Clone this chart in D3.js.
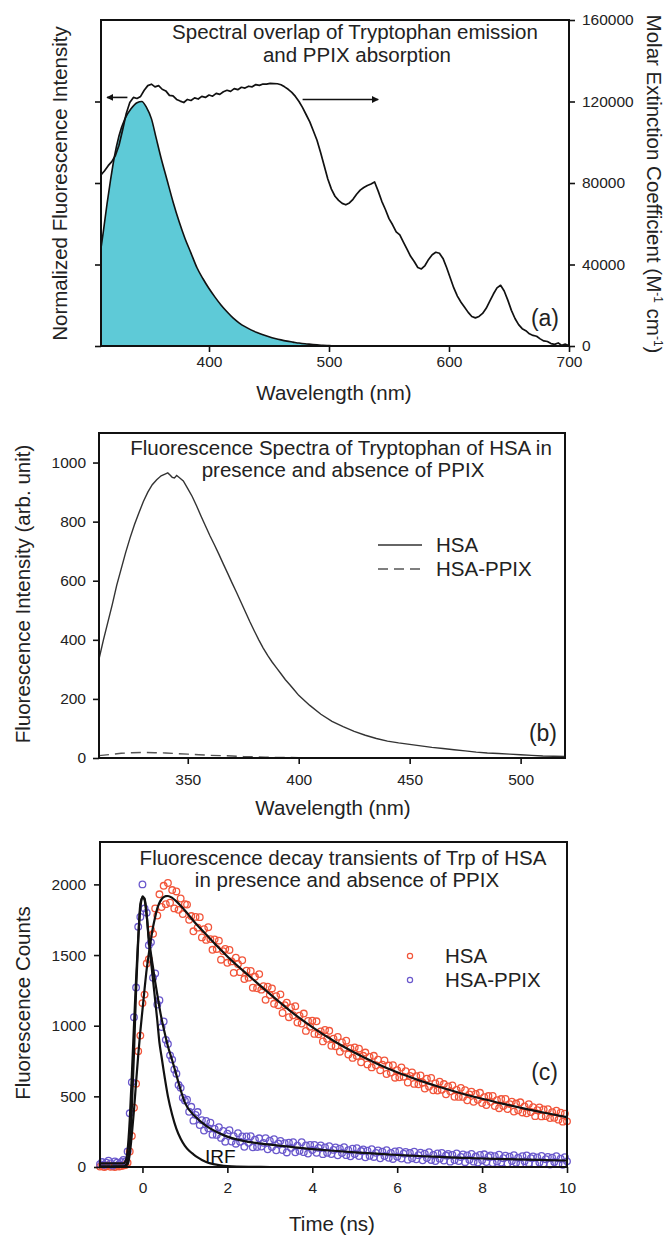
<!DOCTYPE html>
<html>
<head>
<meta charset="utf-8">
<script src="https://cdn.jsdelivr.net/npm/d3@7"></script>
<style>
  html, body { margin: 0; padding: 0; background: #fff; }
  svg text { font-family: "Liberation Sans", Arial, Helvetica, sans-serif; fill: #222; }
</style>
</head>
<body>
<svg id="fig" width="669" height="1236"></svg>
<script>
// ---------------- Panel (a): Trp emission vs. PPIX absorption ----------------
const trpWavelength = [310, 312, 315, 318, 321, 325, 330, 335, 340, 344, 348, 352, 356, 360, 365, 370, 375, 380, 385, 390,
  395, 400, 405, 410, 415, 420, 425, 430, 435, 440, 445, 450, 455, 460, 465, 470, 475, 480, 485, 490, 495, 500, 505];
const trpNormEmission = [0.40, 0.47, 0.58, 0.68, 0.77, 0.86, 0.93, 0.97, 0.995, 1.0, 0.975, 0.93, 0.85, 0.77, 0.68, 0.59, 0.51, 0.44, 0.38, 0.32,
  0.275, 0.235, 0.2, 0.168, 0.14, 0.115, 0.095, 0.079, 0.066, 0.055, 0.046, 0.038, 0.031, 0.025, 0.02, 0.016, 0.012, 0.009, 0.007, 0.005, 0.003, 0.0015, 0];

// PPIX absorption sampled every 3 nm from 310 to 700 nm
const ppixWavelength = d3.range(310, 701, 3);
const ppixExtinction = [
  84000, 86000, 88500, 90500, 93500, 98500, 106000, 114000, 119500, 122000,
  121500, 122500, 125500, 127800, 128500, 127200, 127800, 126000, 125200, 123000,
  122800, 121000, 120200, 119500, 121000, 120500, 121800, 121200, 122500, 122000,
  123200, 122600, 124000, 123500, 124800, 125500, 125000, 126300, 125800, 127000,
  126600, 127500, 127200, 128300, 127900, 128600, 128500, 128900, 128800, 128700,
  128200, 127200, 126000, 124500, 122500, 120000, 117000, 113500, 110000, 105500,
  101000, 95000, 88500, 82000, 77000, 73500, 71500, 70000, 69300, 70200,
  72000, 74500, 76500, 77800, 78800, 79500, 80500, 76000, 71000, 67000,
  62500, 59500, 56000, 54500, 51000, 47500, 44000, 41500, 38500, 37800,
  39500, 42500, 44800, 46000, 45500, 43000, 38500, 33500, 28500, 24500,
  21500, 19000, 16500, 14500, 13800, 14500, 16000, 18500, 22000, 25500,
  28500, 29800, 27000, 22500, 17500, 13500, 10500, 8500, 7500, 6000,
  5200, 4800, 3500, 2500, 2200, 1200, 800, 1500, 300, 900, 200];

const aXTicks = [400, 500, 600, 700];
const aRightTicks = [0, 40000, 80000, 120000, 160000];
const aLeftTicks = [0, 1 / 3, 2 / 3, 1];

// ---------------- Panel (b): steady-state Trp fluorescence ----------------
const bWavelength = [310, 312, 314, 316, 318, 320, 322, 324, 326, 328, 330, 332, 334, 336, 338, 340, 341, 342, 343, 344,
  345, 346, 348, 350, 352, 354, 356, 358, 360, 362, 364, 366, 368, 370, 372, 374, 376, 378, 380, 382,
  384, 386, 388, 390, 392, 394, 396, 398, 400, 405, 410, 415, 420, 425, 430, 435, 440, 445, 450, 455,
  460, 465, 470, 475, 480, 485, 490, 495, 500, 505, 510, 515, 520];
const hsaIntensity = [335, 400, 460, 520, 585, 640, 695, 745, 790, 830, 868, 900, 925, 942, 955, 962, 965, 958, 950, 948,
  956, 950, 938, 912, 885, 853, 818, 785, 752, 722, 690, 657, 625, 592, 560, 527, 494, 461, 430, 400,
  372, 347, 325, 305, 285, 265, 248, 230, 212, 178, 148, 124, 106, 90, 77, 66, 57, 51, 46, 41,
  36, 32, 28, 24, 20, 17, 15, 13, 11, 9, 7, 6, 5];
const ppixWavelengthB = [310, 315, 320, 325, 330, 335, 340, 345, 350, 355, 360, 365, 370, 375, 380, 385, 390, 395, 400, 410, 420, 450, 480, 520];
const hsaPpixIntensity = [8, 12, 16, 18, 19, 18, 17, 15, 13, 11, 9, 8, 7, 5, 4, 3, 2, 2, 1, 1, 0, 0, 0, 0];

const bXTicks = [350, 400, 450, 500];
const bYTicks = [0, 200, 400, 600, 800, 1000];

// ---------------- Panel (c): time-resolved decays ----------------
const channelStart = -1.0;   // ns
const channelWidth = 0.05;   // ns
const hsaCounts = [
  3, 8, 0, 5, 12, 2, 6, 0, 9, 4, 7, 10, 14,
  30, 110, 220, 420, 590, 820, 930, 1160, 1220, 1440, 1470, 1680, 1650, 1830, 1780,
  1930, 1840, 1990, 1860, 2010, 1870, 1960, 1830, 1950, 1820, 1900, 1790, 1860,
  1857, 1749, 1776, 1668, 1770, 1694, 1768, 1625, 1683, 1607, 1697, 1613, 1537, 1611, 1543, 1602, 1467, 1528, 1543, 1445,
  1536, 1455, 1374, 1481, 1437, 1379, 1463, 1330, 1390, 1340, 1387, 1269, 1346, 1265, 1365, 1255, 1279, 1183, 1276, 1217,
  1264, 1155, 1209, 1145, 1222, 1090, 1145, 1163, 1060, 1130, 1074, 1138, 1022, 1071, 1015, 1086, 963, 1034, 993, 1035,
  942, 1031, 939, 959, 889, 970, 907, 964, 858, 908, 855, 921, 816, 881, 843, 894, 796, 840, 772, 846,
  786, 838, 741, 787, 810, 726, 779, 705, 787, 720, 759, 684, 724, 754, 658, 718, 668, 721, 632, 685,
  635, 704, 639, 678, 598, 645, 670, 588, 643, 585, 648, 597, 555, 625, 569, 631, 543, 591, 541, 604,
  547, 587, 515, 570, 536, 578, 497, 546, 496, 560, 496, 544, 472, 514, 533, 461, 517, 476, 525, 453,
  494, 438, 502, 461, 503, 431, 473, 416, 481, 432, 482, 410, 445, 463, 392, 449, 401, 458, 386, 428,
  380, 445, 389, 423, 360, 402, 421, 358, 407, 360, 409, 346, 388, 348, 398, 335, 384, 321, 378, 323];
const hsaPpixCounts = [
  20, 35, 15, 30, 45, 25, 10, 40, 30, 20, 35, 50, 40,
  110, 380, 600, 1060, 1270, 1700, 1770, 2000, 1830, 1800, 1570, 1590, 1340, 1370, 1150,
  1180, 990, 1030, 900, 870, 790, 760, 690, 660, 580, 560, 490, 470,
  476, 391, 426, 328, 369, 389, 297, 331, 258, 326, 274, 314, 229, 270, 227, 282, 206, 256, 179, 236,
  260, 180, 218, 165, 239, 179, 217, 143, 217, 171, 218, 139, 193, 142, 203, 145, 171, 204, 125, 186,
  142, 197, 118, 166, 185, 120, 168, 103, 172, 135, 175, 104, 151, 115, 176, 105, 152, 95, 156, 120,
  156, 101, 135, 152, 91, 138, 101, 147, 92, 121, 138, 83, 130, 99, 140, 84, 119, 76, 129, 92,
  133, 78, 113, 124, 69, 116, 79, 126, 71, 100, 117, 62, 109, 78, 119, 65, 100, 57, 110, 73,
  114, 60, 95, 106, 52, 99, 62, 109, 55, 84, 101, 47, 94, 63, 105, 50, 85, 42, 96, 59,
  100, 46, 81, 93, 38, 85, 49, 96, 42, 71, 89, 34, 82, 51, 93, 38, 74, 31, 85, 48,
  90, 35, 71, 82, 28, 76, 39, 87, 32, 62, 80, 25, 73, 42, 84, 30, 65, 23, 76, 40,
  82, 27, 63, 75, 20, 68, 32, 79, 25, 55, 72, 18, 66, 35, 77, 23, 59, 16, 70, 40];

// fitted decay curves
const fitTime = [-1, -0.45, -0.4, -0.35, -0.3, -0.25, -0.2, -0.15, -0.1, -0.05, 0, 0.05, 0.1, 0.15, 0.2, 0.25, 0.3, 0.35, 0.4, 0.45,
  0.5, 0.55, 0.6, 0.7, 0.8, 0.9, 1.0, 1.25, 1.5, 1.75, 2, 2.5, 3, 3.5, 4, 4.5, 5, 5.5, 6, 6.5, 7, 7.5, 8, 8.5, 9, 9.5, 10];
const hsaFit = [5, 5, 8, 20, 90, 230, 400, 600, 790, 960, 1110, 1260, 1400, 1510, 1610, 1700, 1770, 1830, 1870, 1895,
  1910, 1917, 1918, 1905, 1880, 1848, 1815, 1725, 1645, 1565, 1490, 1355, 1225, 1100, 990, 893, 808, 735, 670, 615, 566, 522, 483, 447, 413, 382, 353];
const hsaPpixFit = [25, 25, 40, 120, 330, 650, 1000, 1330, 1620, 1830, 1915, 1890, 1780, 1620, 1510, 1410, 1310, 1220, 1130, 1050,
  980, 915, 855, 755, 650, 545, 455, 355, 291, 248, 215, 178, 158, 142, 127, 115, 104, 94, 85, 78, 71, 65, 60, 56, 52, 49, 46];

// instrument response function
const irfTime = [-1, -0.45, -0.4, -0.35, -0.3, -0.25, -0.2, -0.15, -0.1, -0.05, 0, 0.05, 0.1, 0.15, 0.2, 0.25, 0.3, 0.35, 0.4, 0.45,
  0.5, 0.6, 0.7, 0.8, 0.9, 1.0, 1.1, 1.2, 1.3, 1.4, 1.5, 1.6, 1.8, 2.0, 2.5, 3.0];
const irfCounts = [0, 2, 10, 45, 150, 420, 800, 1250, 1600, 1860, 1905, 1900, 1780, 1600, 1460, 1320, 1180, 1035, 880, 780,
  680, 500, 370, 270, 200, 150, 115, 90, 68, 50, 36, 26, 14, 6, 1, 0];

const cXTicks = [0, 2, 4, 6, 8, 10];
const cYTicks = [0, 500, 1000, 1500, 2000];

// ---------------- drawing ----------------
const svg = d3.select("#fig");
const ink = "#111";
const TICK_FONT = "15.5px";
const LABEL_FONT = "20.5px";
const intFmt = d3.format("d");

function styleAxis(g) {
  g.select(".domain").remove();
  g.selectAll(".tick line").attr("stroke", ink).attr("stroke-width", 1.6);
  g.selectAll(".tick text").style("font-size", TICK_FONT);
}
function frame(x0, y0, x1, y1) {
  svg.append("rect").attr("x", x0).attr("y", y0).attr("width", x1 - x0).attr("height", y1 - y0)
    .attr("fill", "none").attr("stroke", ink).attr("stroke-width", 2);
}
function label(x, y, txt, opts = {}) {
  const t = svg.append("text").attr("x", x).attr("y", y)
    .attr("text-anchor", opts.anchor || "middle")
    .style("font-size", opts.size || LABEL_FONT)
    .text(txt);
  if (opts.rotate) t.attr("x", null).attr("y", null).attr("transform", `translate(${x},${y}) rotate(${opts.rotate})`);
  return t;
}

// ===== (a) =====
const A = { l: 101, r: 569, t: 20, b: 346 };
const xA = d3.scaleLinear().domain([310, 700]).range([A.l, A.r]);
const yAbs = d3.scaleLinear().domain([0, 160000]).range([A.b, A.t]);
const yNorm = d3.scaleLinear().domain([0, 4 / 3]).range([A.b, A.t]);

const trp = trpWavelength.map((w, i) => ({ w, v: trpNormEmission[i] }));
svg.append("path").datum(trp)
  .attr("fill", "#5ECAD7")
  .attr("d", d3.area().x(d => xA(d.w)).y0(yNorm(0)).y1(d => yNorm(d.v)).curve(d3.curveMonotoneX));
svg.append("path").datum(trp)
  .attr("fill", "none").attr("stroke", ink).attr("stroke-width", 1.6)
  .attr("d", d3.line().x(d => xA(d.w)).y(d => yNorm(d.v)).curve(d3.curveMonotoneX));

const ppix = ppixWavelength.map((w, i) => ({ w, v: ppixExtinction[i] }));
svg.append("path").datum(ppix)
  .attr("fill", "none").attr("stroke", ink).attr("stroke-width", 1.7).attr("stroke-linejoin", "round")
  .attr("d", d3.line().x(d => xA(d.w)).y(d => yAbs(d.v)));

frame(A.l, A.t, A.r, A.b);
svg.append("g").attr("transform", `translate(0,${A.b})`)
  .call(d3.axisBottom(xA).tickValues(aXTicks).tickFormat(intFmt).tickSize(6).tickPadding(4)).call(styleAxis);
svg.append("g").attr("transform", `translate(${A.r},0)`)
  .call(d3.axisRight(yAbs).tickValues(aRightTicks).tickFormat(intFmt).tickSize(6).tickPadding(7)).call(styleAxis);
svg.append("g").attr("transform", `translate(${A.l},0)`)
  .call(d3.axisLeft(yNorm).tickValues(aLeftTicks).tickFormat(() => "").tickSize(6)).call(styleAxis);

// arrows pointing to each curve's axis
const defs = svg.append("defs");
defs.append("marker").attr("id", "arrowHead").attr("viewBox", "0 0 10 10")
  .attr("refX", 9).attr("refY", 5).attr("markerWidth", 7).attr("markerHeight", 7)
  .attr("orient", "auto-start-reverse").attr("markerUnits", "userSpaceOnUse")
  .append("path").attr("d", "M0,0 L10,5 L0,10 z").attr("fill", ink);
const arrows = [
  { from: 332, to: 315, at: 122000 },
  { from: 478, to: 541, at: 121000 }
];
arrows.forEach(a => {
  svg.append("line").attr("x1", xA(a.from)).attr("x2", xA(a.to))
    .attr("y1", yAbs(a.at)).attr("y2", yAbs(a.at))
    .attr("stroke", ink).attr("stroke-width", 1.6).attr("marker-end", "url(#arrowHead)");
});

label(355, 39, "Spectral overlap of Tryptophan emission");
label(357, 62, "and PPIX absorption");
label(559, 326, "(a)", { anchor: "end", size: "23px" });
label(334, 400, "Wavelength (nm)");
label(67, 183.5, "Normalized Fluorescence Intensity", { rotate: -90 });
const rl = svg.append("text").attr("transform", "translate(647,184) rotate(90)")
  .attr("text-anchor", "middle").style("font-size", LABEL_FONT);
rl.append("tspan").text("Molar Extinction Coefficient (M");
rl.append("tspan").attr("dy", -7).style("font-size", "12px").text("-1");
rl.append("tspan").attr("dy", 7).text(" cm");
rl.append("tspan").attr("dy", -7).style("font-size", "12px").text("-1");
rl.append("tspan").attr("dy", 7).text(")");

// ===== (b) =====
const B = { l: 99, r: 565, t: 433, b: 758 };
const xB = d3.scaleLinear().domain([310, 520]).range([B.l, B.r]);
const yB = d3.scaleLinear().domain([0, 1100]).range([B.b, B.t]);

svg.append("path").datum(bWavelength.map((w, i) => ({ w, v: hsaIntensity[i] })))
  .attr("fill", "none").attr("stroke", "#333").attr("stroke-width", 1.4)
  .attr("d", d3.line().x(d => xB(d.w)).y(d => yB(d.v)));
svg.append("path").datum(ppixWavelengthB.map((w, i) => ({ w, v: hsaPpixIntensity[i] })))
  .attr("fill", "none").attr("stroke", "#555").attr("stroke-width", 1.4).attr("stroke-dasharray", "10,6")
  .attr("d", d3.line().x(d => xB(d.w)).y(d => yB(d.v)));

frame(B.l, B.t, B.r, B.b);
svg.append("g").attr("transform", `translate(0,${B.b})`)
  .call(d3.axisBottom(xB).tickValues(bXTicks).tickFormat(intFmt).tickSize(6).tickPadding(10)).call(styleAxis);
svg.append("g").attr("transform", `translate(${B.l},0)`)
  .call(d3.axisLeft(yB).tickValues(bYTicks).tickFormat(intFmt).tickSize(6).tickPadding(7)).call(styleAxis);

label(341, 455, "Fluorescence Spectra of Tryptophan of HSA in");
label(343, 477, "presence and absence of PPIX");
label(557, 741, "(b)", { anchor: "end", size: "23px" });
label(333, 815, "Wavelength (nm)");
label(29.5, 594, "Fluorescence Intensity (arb. unit)", { rotate: -90 });

// legend (b)
svg.append("line").attr("x1", 378).attr("x2", 422).attr("y1", 545).attr("y2", 545)
  .attr("stroke", "#333").attr("stroke-width", 1.4);
svg.append("line").attr("x1", 378).attr("x2", 422).attr("y1", 569).attr("y2", 569)
  .attr("stroke", "#555").attr("stroke-width", 1.4).attr("stroke-dasharray", "10,6");
label(436, 552, "HSA", { anchor: "start" });
label(436, 576, "HSA-PPIX", { anchor: "start" });

// ===== (c) =====
const C = { l: 100, r: 567, t: 842, b: 1167 };
const xC = d3.scaleLinear().domain([-1, 10]).range([C.l, C.r]);
const yC = d3.scaleLinear().domain([0, 2300]).range([C.b, C.t]);
const red = "#F2553A", blue = "#6A58CC";

const hsaPts = hsaCounts.map((v, i) => ({ t: channelStart + i * channelWidth, v }));
const ppixPts = hsaPpixCounts.map((v, i) => ({ t: channelStart + i * channelWidth, v }));

function scatter(data, color) {
  svg.append("g").selectAll("circle").data(data).join("circle")
    .attr("cx", d => xC(d.t)).attr("cy", d => yC(d.v)).attr("r", 3.3)
    .attr("fill", "none").attr("stroke", color).attr("stroke-width", 1.3);
}
scatter(hsaPts, red);
scatter(ppixPts, blue);

const fitLine = d3.line().x(d => xC(d.t)).y(d => yC(d.v)).curve(d3.curveMonotoneX);
svg.append("path").datum(fitTime.map((t, i) => ({ t, v: hsaFit[i] })))
  .attr("fill", "none").attr("stroke", ink).attr("stroke-width", 2.2).attr("d", fitLine);
svg.append("path").datum(fitTime.map((t, i) => ({ t, v: hsaPpixFit[i] })))
  .attr("fill", "none").attr("stroke", ink).attr("stroke-width", 2.2).attr("d", fitLine);
svg.append("path").datum(irfTime.map((t, i) => ({ t, v: irfCounts[i] })))
  .attr("fill", "none").attr("stroke", ink).attr("stroke-width", 2.2).attr("d", fitLine);

frame(C.l, C.t, C.r, C.b);
svg.append("g").attr("transform", `translate(0,${C.b})`)
  .call(d3.axisBottom(xC).tickValues(cXTicks).tickFormat(intFmt).tickSize(6).tickPadding(9)).call(styleAxis);
svg.append("g").attr("transform", `translate(${C.l},0)`)
  .call(d3.axisLeft(yC).tickValues(cYTicks).tickFormat(intFmt).tickSize(6).tickPadding(8)).call(styleAxis);

label(343, 865, "Fluorescence decay transients of Trp of HSA");
label(347, 887, "in presence and absence of PPIX");
label(558, 1080, "(c)", { anchor: "end", size: "23px" });
label(332, 1231, "Time (ns)");
label(29.5, 1003, "Fluorescence Counts", { rotate: -90 });
label(205, 1163, "IRF", { anchor: "start", size: "19px" }).style("fill", ink);

// legend (c)
[{ c: red, y: 956, name: "HSA" }, { c: blue, y: 980, name: "HSA-PPIX" }].forEach(e => {
  svg.append("circle").attr("cx", 410).attr("cy", e.y).attr("r", 2.6)
    .attr("fill", "none").attr("stroke", e.c).attr("stroke-width", 1.2);
  label(445, e.y + 7, e.name, { anchor: "start" });
});
</script>
</body>
</html>
